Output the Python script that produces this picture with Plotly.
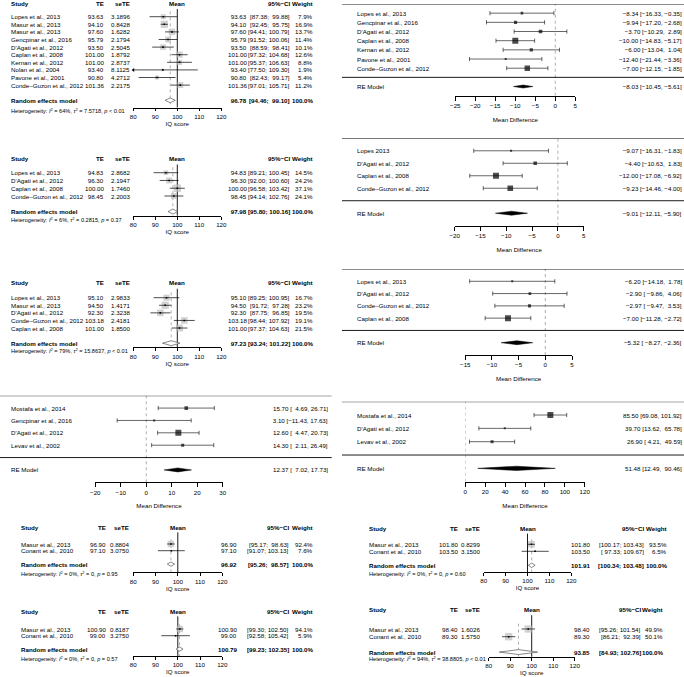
import plotly.graph_objects as go

W, H = 684, 677
FONT = "Liberation Sans, Arial, sans-serif"
FS = 6.2
FS_HET = 5.6
MINUS = "\u2212"
NB = "\u00a0"

# ---------------- data ----------------
# left column, panel 1 (meta forest, IQ score)
l1_study = ["Lopes et al., 2013", "Masur et al., 2013", "Masur et al., 2013", "Gencpinar et al., 2016",
            "D'Agati et al., 2012", "Caplan et al., 2008", "Kernan et al., 2012", "Nolan et al., 2004",
            "Pavone et al., 2001", "Conde\u2013Guzon et al., 2012"]
l1_te = [93.63, 94.10, 97.60, 95.79, 93.50, 101.00, 101.00, 93.40, 90.80, 101.36]
l1_se = [3.1896, 0.8428, 1.6282, 2.1794, 2.5045, 1.8792, 2.8737, 8.1125, 4.2712, 2.2175]
l1_lo = [87.38, 92.45, 94.41, 91.52, 88.59, 97.32, 95.37, 77.50, 82.43, 97.01]
l1_hi = [99.88, 95.75, 100.79, 100.06, 98.41, 104.68, 106.63, 109.30, 99.17, 105.71]
l1_w = [7.9, 16.9, 13.7, 11.4, 10.1, 12.6, 8.8, 1.9, 5.4, 11.2]
l1_re = [96.78, 94.46, 99.10]
l1_het = ["64%", "7.5718", "&lt; 0.01"]

l2_study = ["Lopes et al., 2013", "D'Agati et al., 2012", "Caplan et al., 2008", "Conde\u2013Guzon et al., 2012"]
l2_te = [94.83, 96.30, 100.00, 98.45]
l2_se = [2.8682, 2.1947, 1.7460, 2.2003]
l2_lo = [89.21, 92.00, 96.58, 94.14]
l2_hi = [100.45, 100.60, 103.42, 102.76]
l2_w = [14.5, 24.2, 37.1, 24.1]
l2_re = [97.98, 95.80, 100.16]
l2_het = ["6%", "0.2815", "= 0.37"]

l3_study = ["Lopes et al., 2013", "Masur et al., 2013", "D'Agati et al., 2012", "Conde\u2013Guzon et al., 2012",
            "Caplan et al., 2008"]
l3_te = [95.10, 94.50, 92.30, 103.18, 101.00]
l3_se = [2.9833, 1.4171, 2.3238, 2.4181, 1.8500]
l3_lo = [89.25, 91.72, 87.75, 98.44, 97.37]
l3_hi = [100.95, 97.28, 96.85, 107.92, 104.63]
l3_w = [16.7, 23.2, 19.5, 19.1, 21.5]
l3_re = [97.23, 93.24, 101.22]
l3_het = ["79%", "15.8637", "&lt; 0.01"]

# left column, panel 4 (metafor forest, mean difference)
l4_study = ["Mostafa et al., 2014", "Gencpinar et al., 2016", "D'Agati et al., 2012", "Levav et al., 2002"]
l4_est = [15.70, 3.10, 12.60, 14.30]
l4_lo = [4.69, -11.43, 4.47, 2.11]
l4_hi = [26.71, 17.63, 20.73, 26.49]
l4_re = [12.37, 7.02, 17.73]
l4_ticks = [-20, -10, 0, 10, 20, 30]

l5_study = ["Masur et al., 2013", "Conant et al., 2010"]
l5_te = [96.90, 97.10]
l5_se = [0.8804, 3.0750]
l5_lo = [95.17, 91.07]
l5_hi = [98.63, 103.13]
l5_w = [92.4, 7.6]
l5_re = [96.92, 95.26, 98.57]
l5_het = ["0%", "0", "= 0.95"]

l6_study = ["Masur et al., 2013", "Conant et al., 2010"]
l6_te = [100.90, 99.00]
l6_se = [0.8187, 3.2750]
l6_lo = [99.30, 92.58]
l6_hi = [102.50, 105.42]
l6_w = [94.1, 5.9]
l6_re = [100.79, 99.23, 102.35]
l6_het = ["0%", "0", "= 0.57"]

# right column
r1_study = ["Lopes et al., 2013", "Gencpinar et al., 2016", "D'Agati et al., 2012", "Caplan et al., 2008",
            "Kernan et al., 2012", "Pavone et al., 2001", "Conde\u2013Guzon et al., 2012"]
r1_est = [-8.34, -9.94, -3.70, -10.00, -6.00, -12.40, -7.00]
r1_lo = [-16.33, -17.20, -10.29, -14.83, -13.04, -21.44, -12.15]
r1_hi = [-0.35, -2.68, 2.89, -5.17, 1.04, -3.36, -1.85]
r1_re = [-8.03, -10.45, -5.61]
r1_ticks = [-25, -20, -15, -10, -5, 0, 5]

r2_study = ["Lopes 2013", "D'Agati et al., 2012", "Caplan et al., 2008", "Conde\u2013Guzon et al., 2012"]
r2_est = [-9.07, -4.40, -12.00, -9.23]
r2_lo = [-16.31, -10.63, -17.08, -14.46]
r2_hi = [-1.83, 1.83, -6.92, -4.00]
r2_re = [-9.01, -12.11, -5.90]
r2_ticks = [-20, -15, -10, -5, 0, 5]

r3_study = ["Lopes et al., 2013", "D'Agati et al., 2012", "Conde\u2013Guzon et al., 2012", "Caplan et al., 2008"]
r3_est = [-6.20, -2.90, -2.97, -7.00]
r3_lo = [-14.18, -9.86, -9.47, -11.28]
r3_hi = [1.78, 4.06, 3.53, -2.72]
r3_re = [-5.32, -8.27, -2.36]
r3_ticks = [-15, -10, -5, 0, 5]

r4_study = ["Mostafa et al., 2014", "D'Agati et al., 2012", "Levav et al., 2002"]
r4_est = [85.50, 39.70, 26.90]
r4_lo = [69.08, 13.62, 4.21]
r4_hi = [101.92, 65.78, 49.59]
r4_re = [51.48, 12.49, 90.46]
r4_ticks = [0, 20, 40, 60, 80, 100, 120]

r5_study = ["Masur et al., 2013", "Conant et al., 2010"]
r5_te = [101.80, 103.50]
r5_se = [0.8299, 3.1500]
r5_lo = [100.17, 97.33]
r5_hi = [103.43, 109.67]
r5_w = [93.5, 6.5]
r5_re = [101.91, 100.34, 103.48]
r5_het = ["0%", "0", "= 0.60"]

r6_study = ["Masur et al., 2013", "Conant et al., 2010"]
r6_te = [98.40, 89.30]
r6_se = [1.6026, 1.5750]
r6_lo = [95.26, 86.21]
r6_hi = [101.54, 92.39]
r6_w = [49.9, 50.1]
r6_re = [93.85, 84.93, 102.76]
r6_het = ["94%", "38.8805", "&lt; 0.01"]

iq_ticks = [80, 90, 100, 110, 120]

# ---------------- layout geometry (pixels) ----------------
cols_a = dict(sx=11, tex=104.3, sex=129.5, estx=246.7, cix=289.5, wx=313.3)
cols_b = dict(sx=20.7, tex=106, sex=129.3, estx=237.3, cix=289.3, wx=313)
cols_r = dict(sx=368.7, tex=457.5, sex=479.7, estx=590.3)
G_L1 = dict(x80=133.3, x120=221.3, head=3, row0=16.7, dy=7.6, axis=107.5, het=110.3, **cols_a)
G_L2 = dict(x80=133.3, x120=221.3, head=158.3, row0=172.7, dy=7.77, axis=215.7, het=219, **cols_a)
G_L3 = dict(x80=133.3, x120=221.3, head=282.7, row0=297.7, dy=7.58, axis=347.3, het=350.5, **cols_a)
G_L5 = dict(x80=133.3, x120=222.3, head=527, row0=544, dy=6.7, axis=572.3, het=573.5, **cols_b)
G_L6 = dict(x80=133.3, x120=222.3, head=611, row0=629, dy=6.7, axis=656, het=658.3, **cols_b)
G_R5 = dict(x80=483.7, x120=571.3, head=528, row0=544.3, dy=7.0, axis=572, het=573.7,
            cix=643.7, wx=667, **cols_r)
G_R6 = dict(x80=488.7, x120=574.7, head=609, row0=629, dy=7.7, axis=656.7, het=658.3,
            cix=640.5, wx=663, **cols_r)

rma_left = dict(lx=11, rx=327.7, hx0=0, hx1=331.7)
rma_right = dict(lx=357, rx=682, hx0=342, hx1=684)
G_L4 = dict(x0=95.3, x1=222.7, top=395.7, axis=482.3, **rma_left)
G_R1 = dict(x0=455.3, x1=575.3, top=4, axis=95.7, **rma_right)
G_R2 = dict(x0=454.7, x1=583.7, top=138.3, axis=225.7, **rma_right)
G_R3 = dict(x0=465.3, x1=572, top=269, axis=355, **rma_right)
G_R4 = dict(x0=465.3, x1=584.7, top=401.7, axis=481.7, **rma_right)


def px(x):
    return x / W


def py(y):
    return 1 - y / H


def sfx(i):
    return "" if i == 1 else str(i)


def fmt(vals, nd=2):
    s = [f"{v:.{nd}f}" for v in vals]
    m = max(len(t) for t in s)
    return [(NB * (m - len(t)) + t).replace("-", MINUS) for t in s]


fig = go.Figure()
ann = []
shapes = []


def txt(x, y, s, yref, anchor="left", xref="paper", size=FS, bold=False):
    if bold:
        s = "<b>" + s + "</b>"
    ann.append(dict(x=px(x) if xref == "paper" else x, y=y, xref=xref, yref=yref, text=s,
                    xanchor=anchor, yanchor="middle", showarrow=False, borderpad=0, borderwidth=0,
                    font=dict(size=size, family=FONT, color="black")))


def axis_style(title, standoff, ticklen):
    return dict(showline=True, linecolor="black", linewidth=0.8, ticks="outside", ticklen=ticklen,
                tickwidth=0.8, tickcolor="black", showgrid=False, zeroline=False, automargin=False,
                tickfont=dict(size=FS, family=FONT, color="black"),
                title=dict(text=title, standoff=standoff, font=dict(size=FS, family=FONT, color="black")))


def meta_panel(i, study, te, se, lo, hi, w, re, het, g):
    xa, ya = "x" + sfx(i), "y" + sfx(i)
    n = len(study)
    dy = g["dy"]

    def r(ypx):
        return (ypx - g["row0"]) / dy

    r_head = r(g["head"])
    r_axis = r(g["axis"])
    top_px = max(g["head"] - dy, 0)
    bot_px = min(max(g["axis"], g["het"]) + dy, H)
    rows = list(range(n))
    r_re = n + 1

    fig.layout["xaxis" + sfx(i)] = dict(domain=[px(g["x80"]), px(g["x120"])], range=[80, 120],
                                        tickvals=iq_ticks, anchor="free", position=py(g["axis"]),
                                        **axis_style("IQ score", 1, 3))
    fig.layout["yaxis" + sfx(i)] = dict(domain=[py(bot_px), py(top_px)], range=[r(bot_px), r(top_px)],
                                        visible=False, anchor=xa)

    # reference line and pooled estimate line
    fig.add_trace(go.Scatter(x=[100, 100], y=[r_head + 0.8, r_axis], mode="lines",
                             line=dict(color="black", width=0.9), xaxis=xa, yaxis=ya))
    fig.add_trace(go.Scatter(x=[re[0], re[0]], y=[-0.7, r_axis], mode="lines",
                             line=dict(color="#8c8c8c", width=0.7, dash="dot"), xaxis=xa, yaxis=ya))
    # weight squares
    wmax = max(w)
    size = [0.95 * dy * (v / wmax) ** 0.5 for v in w]
    fig.add_trace(go.Scatter(x=te, y=rows, mode="markers", cliponaxis=False,
                             marker=dict(symbol="square", size=size, color="#bebebe", line=dict(width=0)),
                             xaxis=xa, yaxis=ya))
    # confidence intervals (clipped to the axis range, arrow where cut)
    cx, cy = [], []
    for a, b, y in zip(lo, hi, rows):
        cx += [max(a, 80), min(b, 120), None]
        cy += [y, y, None]
    fig.add_trace(go.Scatter(x=cx, y=cy, mode="lines", line=dict(color="black", width=0.7),
                             xaxis=xa, yaxis=ya))
    clipped = [y for a, y in zip(lo, rows) if a < 80]
    if clipped:
        fig.add_trace(go.Scatter(x=[80] * len(clipped), y=clipped, mode="markers", cliponaxis=False,
                                 marker=dict(symbol="triangle-left", size=3.5, color="black"),
                                 xaxis=xa, yaxis=ya))
    fig.add_trace(go.Scatter(x=te, y=rows, mode="markers",
                             marker=dict(symbol="square", size=1.6, color="black"), xaxis=xa, yaxis=ya))
    # pooled diamond
    h = 0.32
    fig.add_trace(go.Scatter(x=[re[1], re[0], re[2], re[0], re[1]], y=[r_re, r_re - h, r_re, r_re + h, r_re],
                             mode="lines", fill="toself", fillcolor="white",
                             line=dict(color="#555555", width=0.7), xaxis=xa, yaxis=ya))

    # text columns
    txt(g["sx"], r_head, "Study", ya, bold=True)
    txt(g["tex"], r_head, "TE", ya, "right", bold=True)
    txt(g["sex"], r_head, "seTE", ya, "right", bold=True)
    txt(100, r_head, "Mean", ya, "center", xref=xa, bold=True)
    txt(g["cix"], r_head, "95%\u2212CI", ya, "right", bold=True)
    txt(g["wx"], r_head, "Weight", ya, "right", bold=True)
    los = fmt(lo + [re[1]])
    his = fmt(hi + [re[2]])
    ests = fmt(te + [re[0]])
    tes = fmt(te)
    ses = fmt(se, 4)
    for j, y in enumerate(rows):
        txt(g["sx"], y, study[j], ya)
        txt(g["tex"], y, tes[j], ya, "right")
        txt(g["sex"], y, ses[j], ya, "right")
        txt(g["estx"], y, ests[j], ya, "right")
        txt(g["cix"], y, f"[{los[j]}; {his[j]}]", ya, "right")
        txt(g["wx"], y, f"{w[j]:.1f}%", ya, "right")
    txt(g["sx"], r_re, "Random effects model", ya, bold=True)
    txt(g["estx"], r_re, ests[-1], ya, "right", bold=True)
    txt(g["cix"], r_re, f"[{los[-1]}; {his[-1]}]", ya, "right", bold=True)
    txt(g["wx"], r_re, "100.0%", ya, "right", bold=True)
    het_s = (f"Heterogeneity: <i>I</i><sup>2</sup> = {het[0]}, <i>\u03c4</i><sup>2</sup> = {het[1]}, "
             f"<i>p</i> {het[2]}")
    txt(g["sx"], r(g["het"]), het_s, ya, size=FS_HET)


def rma_panel(i, study, est, lo, hi, re, ticks, g):
    xa, ya = "x" + sfx(i), "y" + sfx(i)
    k = len(study)
    rows = [k - j for j in range(k)]

    fig.layout["xaxis" + sfx(i)] = dict(domain=[px(g["x0"]), px(g["x1"])], range=[ticks[0], ticks[-1]],
                                        tickvals=ticks, anchor=ya, **axis_style("Mean Difference", 9, 4))
    fig.layout["yaxis" + sfx(i)] = dict(domain=[py(g["axis"]), py(g["top"])], range=[-2, k + 1],
                                        visible=False, anchor=xa)

    for yv in (k + 1, 0):
        shapes.append(dict(type="line", xref="paper", yref=ya, x0=px(g["hx0"]), x1=px(g["hx1"]),
                           y0=yv, y1=yv, line=dict(color="black", width=0.9)))
    fig.add_trace(go.Scatter(x=[0, 0], y=[-2, k + 1], mode="lines", cliponaxis=False,
                             line=dict(color="#777777", width=0.6, dash="dot"), xaxis=xa, yaxis=ya))
    cx, cy = [], []
    for a, b, y in zip(lo, hi, rows):
        cx += [a, b, None]
        cy += [y, y, None]
    fig.add_trace(go.Scatter(x=cx, y=cy, mode="lines", line=dict(color="black", width=0.6),
                             xaxis=xa, yaxis=ya))
    fig.add_trace(go.Scatter(x=lo + hi, y=rows + rows, mode="markers", cliponaxis=False,
                             marker=dict(symbol="line-ns", size=3, line=dict(color="black", width=0.6)),
                             xaxis=xa, yaxis=ya))
    prec = [3.92 / (b - a) for a, b in zip(lo, hi)]
    pmin, pmax = min(prec), max(prec)
    size = [2 + 4 * (p - pmin) / (pmax - pmin) for p in prec]
    fig.add_trace(go.Scatter(x=est, y=rows, mode="markers",
                             marker=dict(symbol="square", size=size, color="black", line=dict(width=0)),
                             xaxis=xa, yaxis=ya))
    h = 0.16
    fig.add_trace(go.Scatter(x=[re[1], re[0], re[2], re[0], re[1]], y=[-1, -1 + h, -1, -1 - h, -1],
                             mode="lines", fill="toself", fillcolor="black",
                             line=dict(color="black", width=0.5), xaxis=xa, yaxis=ya))

    los = fmt(lo + [re[1]])
    his = fmt(hi + [re[2]])
    ests = fmt(est + [re[0]])
    for j, y in enumerate(rows):
        txt(g["lx"], y, study[j], ya)
        txt(g["rx"], y, f"{ests[j]} [{los[j]}, {his[j]}]", ya, "right")
    txt(g["lx"], -1, "RE Model", ya)
    txt(g["rx"], -1, f"{ests[-1]} [{los[-1]}, {his[-1]}]", ya, "right")


meta_panel(1, l1_study, l1_te, l1_se, l1_lo, l1_hi, l1_w, l1_re, l1_het, G_L1)
meta_panel(2, l2_study, l2_te, l2_se, l2_lo, l2_hi, l2_w, l2_re, l2_het, G_L2)
meta_panel(3, l3_study, l3_te, l3_se, l3_lo, l3_hi, l3_w, l3_re, l3_het, G_L3)
rma_panel(4, l4_study, l4_est, l4_lo, l4_hi, l4_re, l4_ticks, G_L4)
meta_panel(5, l5_study, l5_te, l5_se, l5_lo, l5_hi, l5_w, l5_re, l5_het, G_L5)
meta_panel(6, l6_study, l6_te, l6_se, l6_lo, l6_hi, l6_w, l6_re, l6_het, G_L6)
rma_panel(7, r1_study, r1_est, r1_lo, r1_hi, r1_re, r1_ticks, G_R1)
rma_panel(8, r2_study, r2_est, r2_lo, r2_hi, r2_re, r2_ticks, G_R2)
rma_panel(9, r3_study, r3_est, r3_lo, r3_hi, r3_re, r3_ticks, G_R3)
rma_panel(10, r4_study, r4_est, r4_lo, r4_hi, r4_re, r4_ticks, G_R4)
meta_panel(11, r5_study, r5_te, r5_se, r5_lo, r5_hi, r5_w, r5_re, r5_het, G_R5)
meta_panel(12, r6_study, r6_te, r6_se, r6_lo, r6_hi, r6_w, r6_re, r6_het, G_R6)

fig.update_layout(width=W, height=H, margin=dict(l=0, r=0, t=0, b=0, autoexpand=False), showlegend=False,
                  paper_bgcolor="white", plot_bgcolor="white", annotations=ann, shapes=shapes,
                  font=dict(family=FONT, size=FS, color="black"))
fig.write_html("out.html", config={"displayModeBar": False},
               post_script="document.body.style.margin='0';document.body.style.padding='0';")
